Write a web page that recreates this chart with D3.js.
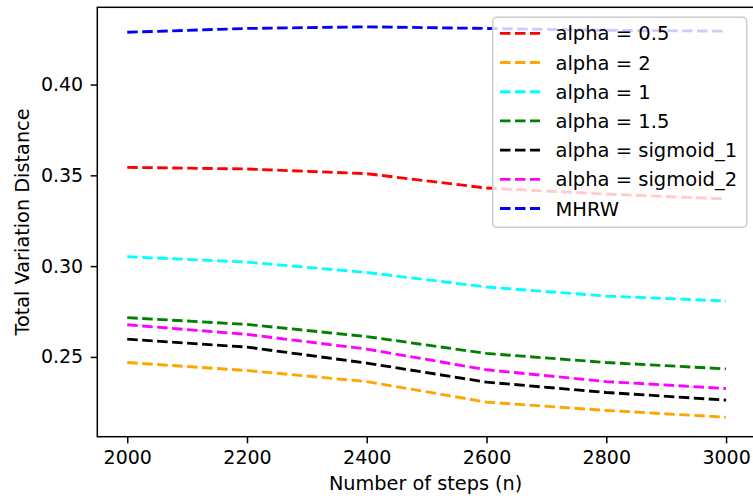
<!DOCTYPE html>
<html>
<head>
  <meta charset="utf-8">
  <style>
    body { margin: 0; background: #fff; }
    svg { display: block; font-family: "DejaVu Sans", sans-serif; }
    .axis text { font-size: 19px; fill: #000; }
    .axis line { stroke: #000; stroke-width: 1.5; }
    .axis path { display: none; }
    .label { font-size: 19.3px; fill: #000; }
    .legend text { font-size: 19.5px; fill: #000; }
  </style>
</head>
<body>
  <script src="https://cdn.jsdelivr.net/npm/d3@7"></script>
  <script>
    // data
    var steps = [2000, 2200, 2400, 2600, 2800, 3000];
    var alpha05   = [0.3544, 0.3535, 0.3509, 0.3430, 0.3397, 0.3370];
    var alpha2    = [0.2469, 0.2425, 0.2364, 0.2251, 0.2205, 0.2168];
    var alpha1    = [0.3052, 0.3022, 0.2965, 0.2885, 0.2835, 0.2808];
    var alpha15   = [0.2716, 0.2679, 0.2612, 0.2519, 0.2469, 0.2434];
    var sigmoid1  = [0.2598, 0.2554, 0.2466, 0.2361, 0.2304, 0.2262];
    var sigmoid2  = [0.2677, 0.2624, 0.2543, 0.2429, 0.2364, 0.2326];
    var mhrw      = [0.4288, 0.4309, 0.4318, 0.4309, 0.4299, 0.4294];

    var labels = ["alpha = 0.5", "alpha = 2", "alpha = 1", "alpha = 1.5",
                  "alpha = sigmoid_1", "alpha = sigmoid_2", "MHRW"];
    var colors = ["red", "orange", "cyan", "green", "black", "magenta", "blue"];
    var xTicks = [2000, 2200, 2400, 2600, 2800, 3000];
    var yTicks = [0.25, 0.30, 0.35, 0.40];

    var series = [alpha05, alpha2, alpha1, alpha15, sigmoid1, sigmoid2, mhrw].map(function(vals, i) {
      return { name: labels[i], color: colors[i], values: vals };
    });

    var W = 753, H = 496;
    var ax = {left: 97.3, right: 756, top: 7.3, bottom: 436.7};

    // matplotlib style 5% margins
    var xmin = d3.min(steps), xmax = d3.max(steps), xm = (xmax - xmin) * 0.05;
    var all = d3.merge(series.map(function(s) { return s.values; }));
    var ymin = d3.min(all), ymax = d3.max(all), ym = (ymax - ymin) * 0.05;

    var x = d3.scaleLinear().domain([xmin - xm, xmax + xm]).range([ax.left, ax.right]);
    var y = d3.scaleLinear().domain([ymin - ym, ymax + ym]).range([ax.bottom, ax.top]);

    var svg = d3.select("body").append("svg")
        .attr("width", W)
        .attr("height", H);

    svg.append("defs").append("clipPath").attr("id", "clip")
      .append("rect")
        .attr("x", ax.left).attr("y", ax.top)
        .attr("width", ax.right - ax.left).attr("height", ax.bottom - ax.top);

    var line = d3.line()
        .x(function(d, i) { return x(steps[i]); })
        .y(function(d) { return y(d); });

    svg.append("g").attr("clip-path", "url(#clip)")
      .selectAll(".series")
      .data(series)
      .enter().append("path")
        .attr("class", "series")
        .attr("d", function(d) { return line(d.values); })
        .attr("fill", "none")
        .attr("stroke", function(d) { return d.color; })
        .attr("stroke-width", 2.85)
        .attr("stroke-dasharray", "10.5,4.5");

    // axes
    svg.append("g")
        .attr("class", "axis")
        .attr("transform", "translate(0," + ax.bottom + ")")
        .call(d3.axisBottom(x).tickValues(xTicks).tickSize(6.6).tickPadding(7.5).tickFormat(d3.format("d")));

    svg.append("g")
        .attr("class", "axis")
        .attr("transform", "translate(" + ax.left + ",0)")
        .call(d3.axisLeft(y).tickValues(yTicks).tickSize(6.6).tickPadding(7.5).tickFormat(d3.format(".2f")));

    svg.selectAll(".axis").attr("font-size", null).attr("font-family", null);

    // frame
    svg.append("rect")
        .attr("x", ax.left).attr("y", ax.top)
        .attr("width", ax.right - ax.left).attr("height", ax.bottom - ax.top)
        .attr("fill", "none")
        .attr("stroke", "#000")
        .attr("stroke-width", 1.5);

    svg.append("text")
        .attr("class", "label")
        .attr("x", (ax.left + ax.right) / 2 - 1)
        .attr("y", 489.5)
        .attr("text-anchor", "middle")
        .text("Number of steps (n)");

    svg.append("text")
        .attr("class", "label")
        .attr("transform", "translate(28.5," + ((ax.top + ax.bottom) / 2) + ") rotate(-90)")
        .attr("text-anchor", "middle")
        .text("Total Variation Distance");

    // legend
    var lg = svg.append("g").attr("class", "legend");
    lg.append("rect")
        .attr("x", 492.7).attr("y", 17.3)
        .attr("width", 254).attr("height", 210)
        .attr("rx", 3.8)
        .attr("fill", "#fff")
        .attr("fill-opacity", 0.8)
        .attr("stroke", "#cccccc")
        .attr("stroke-width", 1.5);

    var item = lg.selectAll(".item")
      .data(series)
      .enter().append("g")
        .attr("class", "item")
        .attr("transform", function(d, i) { return "translate(0," + (33.3 + i * 29.2) + ")"; });

    item.append("line")
        .attr("x1", 500).attr("x2", 540)
        .attr("stroke", function(d) { return d.color; })
        .attr("stroke-width", 2.85)
        .attr("stroke-dasharray", "10.5,4.5");

    item.append("text")
        .attr("x", 555.5)
        .attr("dy", "0.36em")
        .text(function(d) { return d.name; });
  </script>
</body>
</html>
